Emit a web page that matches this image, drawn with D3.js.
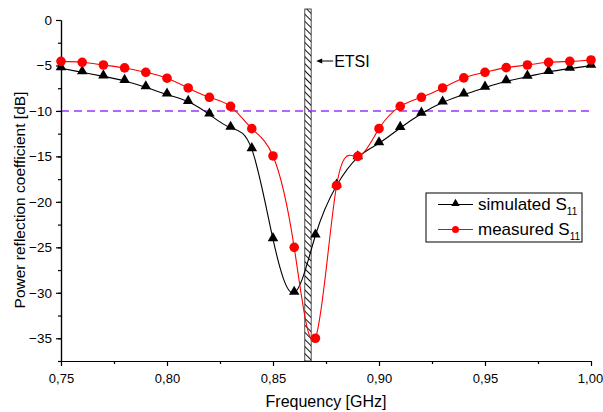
<!DOCTYPE html>
<html>
<head>
<meta charset="utf-8">
<script src="https://cdn.jsdelivr.net/npm/d3@7"></script>
<style>
  body { margin: 0; background: #fff; }
  svg { font-family: "Liberation Sans", Arial, sans-serif; }
</style>
</head>
<body>
<div id="chart"></div>
<script>
// frequency points (GHz)
var freq = [0.75, 0.76, 0.77, 0.78, 0.79, 0.80, 0.81, 0.82, 0.83, 0.84, 0.85, 0.86, 0.87,
            0.88, 0.89, 0.90, 0.91, 0.92, 0.93, 0.94, 0.95, 0.96, 0.97, 0.98, 0.99, 1.00];
// simulated S11 (dB)
var simulated = [-5.3, -5.75, -6.2, -6.7, -7.4, -8.2, -9.0, -10.4, -11.85, -14.2, -24.1, -30.0, -23.7,
                 -18.2, -15.1, -13.55, -11.87, -10.3, -9.08, -8.2, -7.44, -6.74, -6.23, -5.71, -5.35, -5.02];
// measured S11 (dB)
var measured = [-4.55, -4.65, -4.95, -5.27, -5.75, -6.4, -7.47, -8.5, -9.5, -11.95, -14.95, -25.0, -35.0,
                -18.2, -15.0, -11.95, -9.5, -8.5, -7.47, -6.37, -5.75, -5.24, -4.95, -4.65, -4.55, -4.4];
var xTicks = [0.75, 0.80, 0.85, 0.90, 0.95, 1.00];
var yTicks = [0, -5, -10, -15, -20, -25, -30, -35];
var etsiBand = [0.865, 0.868];
var threshold = -10;

var width = 603, height = 412;
var margin = {left: 61, right: 12, top: 20, bottom: 51};

var svg = d3.select('#chart').append('svg')
  .attr('width', width)
  .attr('height', height);

var x = d3.scaleLinear().domain([0.75, 1.00]).range([margin.left, width - margin.right]);
var y = d3.scaleLinear().domain([-37.5, 0]).range([height - margin.bottom, margin.top]);

var comma = function(d) { return d3.format('.2f')(d).replace('.', ','); };

// hatch pattern for the ETSI band
var defs = svg.append('defs');
var pat = defs.append('pattern')
  .attr('id', 'hatch')
  .attr('patternUnits', 'userSpaceOnUse')
  .attr('width', 5).attr('height', 5)
  .attr('patternTransform', 'rotate(-45)');
pat.append('rect').attr('width', 5).attr('height', 5).attr('fill', '#fff');
pat.append('line')
  .attr('x1', 0).attr('y1', 0).attr('x2', 0).attr('y2', 5)
  .attr('stroke', '#111').attr('stroke-width', 2);

svg.append('rect')
  .attr('x', x(etsiBand[0]))
  .attr('y', 9)
  .attr('width', x(etsiBand[1]) - x(etsiBand[0]))
  .attr('height', y(-37.5) - 9)
  .attr('fill', 'url(#hatch)')
  .attr('stroke', '#222')
  .attr('stroke-width', 0.8);

// -10 dB line
svg.append('line')
  .attr('x1', x(0.75)).attr('x2', x(1.00))
  .attr('y1', y(threshold)).attr('y2', y(threshold))
  .attr('stroke', '#9933ff')
  .attr('stroke-width', 1.5)
  .attr('stroke-dasharray', '8,5');

// axes
var xAxis = d3.axisBottom(x).tickValues(xTicks).tickFormat(comma).tickSize(5).tickSizeOuter(0);
var xMinor = d3.axisBottom(x).tickValues(d3.range(0.775, 1.0, 0.05)).tickFormat('').tickSize(3).tickSizeOuter(0);
var yAxis = d3.axisLeft(y).tickValues(yTicks).tickFormat(d3.format('d')).tickSize(5).tickSizeOuter(0);
var yMinor = d3.axisLeft(y).tickValues(d3.range(-37.5, 0, 2.5)).tickFormat('').tickSize(3).tickSizeOuter(0);

function styleAxis(g) {
  g.selectAll('path, line').attr('stroke', '#000').attr('stroke-width', 1.2);
  g.selectAll('text').attr('fill', '#000').style('font-size', '13.5px');
}

svg.append('g').attr('transform', 'translate(0,' + y(-37.5) + ')').call(xMinor).call(styleAxis);
var gx = svg.append('g').attr('transform', 'translate(0,' + y(-37.5) + ')').call(xAxis).call(styleAxis);
gx.selectAll('text').attr('dy', '1.1em').style('font-size', '13px');
// last label sits at the right edge of the window
gx.selectAll('.tick').filter(function(d) { return d === 1.00; }).select('text').attr('x', -1);
svg.append('g').attr('transform', 'translate(' + x(0.75) + ',0)').call(yMinor).call(styleAxis);
svg.append('g').attr('transform', 'translate(' + x(0.75) + ',0)').call(yAxis).call(styleAxis)
  .selectAll('text').attr('x', -9);

// axis titles
svg.append('text')
  .attr('x', (x(0.75) + x(1.00)) / 2)
  .attr('y', 407)
  .attr('text-anchor', 'middle')
  .style('font-size', '16px')
  .text('Frequency [GHz]');

svg.append('text')
  .attr('transform', 'translate(25,200) rotate(-90)')
  .attr('text-anchor', 'middle')
  .style('font-size', '15.5px')
  .text('Power reflection coefficient [dB]');

// curves
var line = d3.line()
  .x(function(d) { return x(d[0]); })
  .y(function(d) { return y(d[1]); })
  .curve(d3.curveNatural);

var simData = freq.map(function(f, i) { return [f, simulated[i]]; });
var meaData = freq.map(function(f, i) { return [f, measured[i]]; });

svg.append('path').datum(simData).attr('d', line)
  .attr('fill', 'none').attr('stroke', '#000').attr('stroke-width', 1.1);
svg.append('path').datum(meaData).attr('d', line)
  .attr('fill', 'none').attr('stroke', '#ff0000').attr('stroke-width', 1.1);

var tri = d3.symbol().type(d3.symbolTriangle).size(48);
svg.selectAll('.tri').data(simData).enter().append('path')
  .attr('class', 'tri')
  .attr('transform', function(d) { return 'translate(' + x(d[0]) + ',' + (y(d[1]) - 1) + ')'; })
  .attr('d', tri)
  .attr('fill', '#000');

svg.selectAll('.dot').data(meaData).enter().append('circle')
  .attr('class', 'dot')
  .attr('cx', function(d) { return x(d[0]); })
  .attr('cy', function(d) { return y(d[1]); })
  .attr('r', 4.8)
  .attr('fill', '#ff0000');

// ETSI annotation
var ax = x(etsiBand[1]) + 5, ay = 61;
svg.append('line')
  .attr('x1', ax + 4).attr('x2', ax + 17).attr('y1', ay).attr('y2', ay)
  .attr('stroke', '#000').attr('stroke-width', 1);
svg.append('path')
  .attr('d', 'M' + ax + ',' + ay + 'L' + (ax + 6) + ',' + (ay - 2.5) + 'L' + (ax + 6) + ',' + (ay + 2.5) + 'Z')
  .attr('fill', '#000');
svg.append('text')
  .attr('x', ax + 18).attr('y', ay + 6)
  .style('font-size', '16px')
  .text('ETSI');

// legend
var legend = svg.append('g').attr('transform', 'translate(426,193)');
legend.append('rect')
  .attr('width', 156).attr('height', 49)
  .attr('fill', '#fff').attr('stroke', '#000').attr('stroke-width', 1);

var entries = [
  {name: 'simulated S', color: '#000', marker: 'tri'},
  {name: 'measured S', color: '#ff0000', marker: 'dot'}
];
entries.forEach(function(e, i) {
  var ly = 11.5 + i * 25;
  legend.append('line')
    .attr('x1', 12).attr('x2', 47).attr('y1', ly).attr('y2', ly)
    .attr('stroke', e.color).attr('stroke-width', 1.1);
  if (e.marker === 'tri') {
    legend.append('path')
      .attr('transform', 'translate(29.5,' + (ly - 1) + ')')
      .attr('d', d3.symbol().type(d3.symbolTriangle).size(30)())
      .attr('fill', e.color);
  } else {
    legend.append('circle').attr('cx', 29.5).attr('cy', ly).attr('r', 3.5).attr('fill', e.color);
  }
  var t = legend.append('text')
    .attr('x', 52).attr('y', ly + 5.5)
    .style('font-size', '17px')
    .text(e.name);
  t.append('tspan').attr('dy', 5).style('font-size', '10px').text('11');
});
</script>
</body>
</html>
